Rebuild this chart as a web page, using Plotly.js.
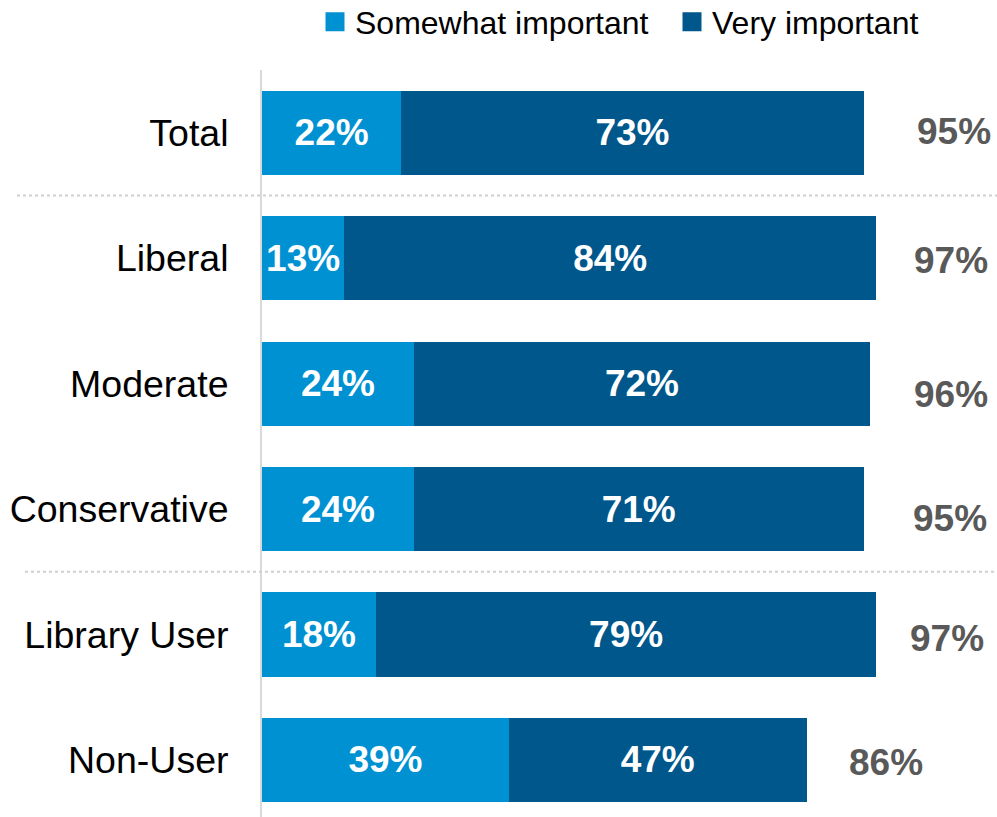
<!DOCTYPE html>
<html>
<head>
<meta charset="utf-8">
<script src="https://cdn.plot.ly/plotly-3.0.1.min.js"></script>
<style>html,body{margin:0;padding:0;background:#fff;}#chart{width:997px;height:817px;}</style>
</head>
<body>
<div id="chart"></div>
<script>
// Data
var categories = ["Total", "Liberal", "Moderate", "Conservative", "Library User", "Non-User"];
var somewhatImportant = [22, 13, 24, 24, 18, 39];
var veryImportant = [73, 84, 72, 71, 79, 47];
var totalImportant = [95, 97, 96, 95, 97, 86];
var seriesNames = ["Somewhat important", "Very important"];

// Styling
var lightBlue = "#0091D2";
var darkBlue = "#00578B";
var FONT = "Liberation Sans, Arial, sans-serif";
var W = 997, H = 817, ML = 262, MR = 10, MT = 70, MB = 0;
var plotW = W - ML - MR;
// pixel centre positions / vertical offsets for the total labels
var totalLabelPx = [954, 951, 951, 950, 947, 886];
var totalLabelShift = [1, -2, -11, -9, -4, -3];

function pct(a){ return a.map(function(v){ return v + "%"; }); }

var barCommon = {
  type: "bar", orientation: "h", y: categories,
  textposition: "inside", insidetextanchor: "middle", constraintext: "none",
  textfont: {family: FONT, size: 37, color: "#ffffff", weight: "bold"},
  hoverinfo: "none", showlegend: false, cliponaxis: false
};
var traces = [
  Object.assign({}, barCommon, {x: somewhatImportant, text: pct(somewhatImportant), name: seriesNames[0], marker: {color: lightBlue}}),
  Object.assign({}, barCommon, {x: veryImportant, text: pct(veryImportant), name: seriesNames[1], marker: {color: darkBlue}}),
  {type: "scatter", mode: "markers", x: [null], y: [null], name: seriesNames[0], marker: {symbol: "square", size: 16, color: lightBlue, line: {width: 3, color: lightBlue}}, showlegend: true, hoverinfo: "none"},
  {type: "scatter", mode: "markers", x: [null], y: [null], name: seriesNames[1], marker: {symbol: "square", size: 16, color: darkBlue, line: {width: 3, color: darkBlue}}, showlegend: true, hoverinfo: "none"}
];

var annotations = totalImportant.map(function(v, i){
  return {
    xref: "paper", yref: "y", x: (totalLabelPx[i] - ML) / plotW, y: categories[i],
    text: v + "%", showarrow: false, xanchor: "center", yanchor: "middle",
    yshift: totalLabelShift[i],
    font: {family: FONT, size: 37, color: "#595959", weight: "bold"}
  };
});

var shapes = [
  {type: "line", xref: "paper", yref: "y", x0: (17 - ML) / plotW, x1: (W - ML) / plotW, y0: 0.5, y1: 0.5,
   line: {color: "#CFCFCF", width: 2, dash: "dot"}},
  {type: "line", xref: "paper", yref: "y", x0: (25 - ML) / plotW, x1: (W - ML) / plotW, y0: 3.5, y1: 3.5,
   line: {color: "#CFCFCF", width: 2, dash: "dot"}}
];

var layout = {
  width: W, height: H,
  margin: {l: ML, r: MR, t: MT, b: MB, pad: 0, autoexpand: false},
  paper_bgcolor: "#ffffff", plot_bgcolor: "#ffffff",
  barmode: "stack", bargap: 0.33,
  font: {family: FONT, color: "#000000"},
  xaxis: {range: [0, 114.5], showgrid: false, zeroline: false, showline: false, showticklabels: false, ticks: "", fixedrange: true},
  yaxis: {type: "category", categoryorder: "array", categoryarray: categories, range: [5.455, -0.5],
          showgrid: false, zeroline: false, showline: true, linecolor: "#D9D9D9", linewidth: 2,
          ticks: "", ticklabelstandoff: 24, tickfont: {family: FONT, size: 37.5, color: "#000000"}, fixedrange: true},
  showlegend: true,
  legend: {orientation: "h", xref: "container", yref: "container", x: 315 / W, xanchor: "left", y: 1 - 22 / H, yanchor: "middle",
           entrywidthmode: "pixels", entrywidth: 312,
           font: {family: FONT, size: 32, color: "#000000"}, bgcolor: "rgba(0,0,0,0)", traceorder: "normal"},
  shapes: shapes,
  annotations: annotations
};

Plotly.newPlot("chart", traces, layout, {displayModeBar: false, staticPlot: true});
</script>
</body>
</html>
